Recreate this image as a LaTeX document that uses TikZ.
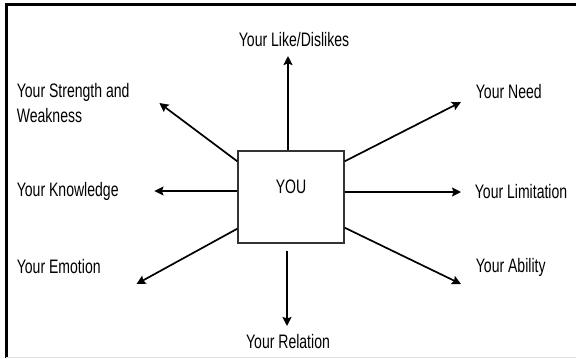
\documentclass[tikz,border=0pt]{standalone}
\usepackage{fontspec}
\setmainfont{Liberation Sans}[FakeStretch=0.72]
\usepackage{tikz}
\usetikzlibrary{
    arrows.meta
}

\begin{document}
\begin{tikzpicture}[x=1bp,y=1bp,->,>={Stealth[length=9bp,width=9bp,inset=1.5bp]},line width=1.7bp,
    every node/.style={font=\fontsize{19.5bp}{25bp}\selectfont, inner sep=0pt}]
    \tikzstyle{topic}=[anchor=west, align=left]
    \tikzstyle{center box}=[draw=black!80, line width=1.4bp, minimum width=106bp, minimum height=92bp]

    \useasboundingbox (0,0) rectangle (576,358);
    \draw[-, line width=3bp] (6,0) -- (6,353) -- (576,353);
    \draw[-, black!12, line width=1bp] (6,0.5) -- (576,0.5);

    \node[center box, label={[yshift=10bp]center:YOU}] (you) at (291, 161) {};
    \node (like) at (294, 318) {Your Like/Dislikes};
    \node (rel) at (288, 16) {Your Relation};
    \node[topic] (str) at (16, 255) {Your Strength and\\Weakness};
    \node[topic] (know) at (16, 167) {Your Knowledge};
    \node[topic] (emo) at (16, 91) {Your Emotion};
    \node[topic] (need) at (475, 266) {Your Need};
    \node[topic] (lim) at (474, 166) {Your Limitation};
    \node[topic] (abl) at (475, 91) {Your Ability};

    \draw[shorten >=8bp] ([xshift=-3bp]you.north) -- ([xshift=-3bp]you.north |- like.south);
    \draw[shorten >=8bp] ([xshift=-4bp,yshift=-7bp]you.south) -- ([xshift=-4bp]you.south |- rel.north);
    \draw[shorten >=35bp] (you.west |- know) -- (know.east);
    \draw[shorten >=13bp] (you.east |- lim) -- (lim.west);
    \draw ([yshift=-11bp]you.north west) -- ([xshift=29bp]str.east);
    \draw ([yshift=-11bp]you.north east) -- ([xshift=-14bp,yshift=-10bp]need.west);
    \draw ([yshift=15bp]you.south west) -- ([xshift=35bp,yshift=-17bp]emo.east);
    \draw ([yshift=16bp]you.south east) -- ([xshift=-14bp,yshift=-17bp]abl.west);
\end{tikzpicture}
\end{document}
